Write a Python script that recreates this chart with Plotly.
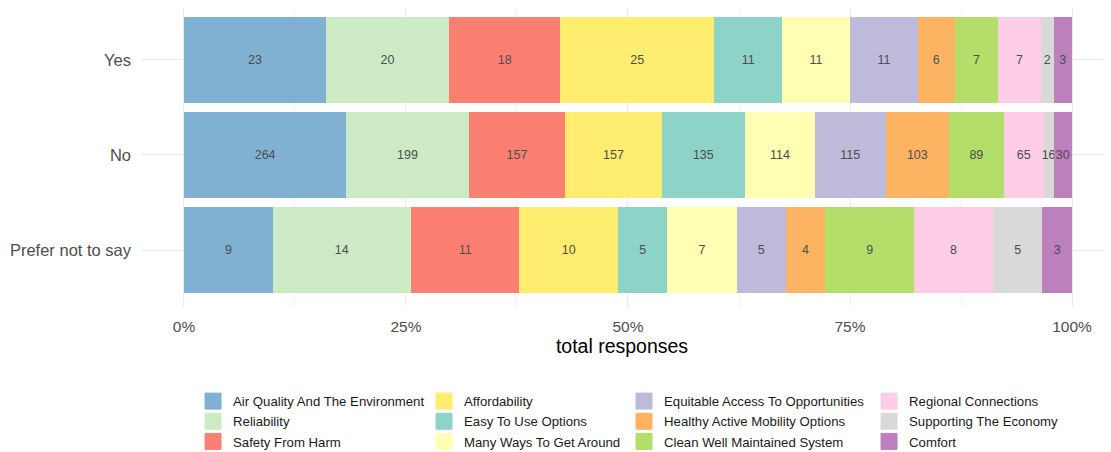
import plotly.graph_objects as go

groups = ["Yes", "No", "Prefer not to say"]
themes = [
    "Air Quality And The Environment", "Reliability", "Safety From Harm",
    "Affordability", "Easy To Use Options", "Many Ways To Get Around",
    "Equitable Access To Opportunities", "Healthy Active Mobility Options",
    "Clean Well Maintained System", "Regional Connections",
    "Supporting The Economy", "Comfort",
]
yes_counts = [23, 20, 18, 25, 11, 11, 11, 6, 7, 7, 2, 3]
no_counts = [264, 199, 157, 157, 135, 114, 115, 103, 89, 65, 16, 30]
pnts_counts = [9, 14, 11, 10, 5, 7, 5, 4, 9, 8, 5, 3]
colors = ["#80B1D3", "#CCEBC5", "#FB8072", "#FFED6F", "#8DD3C7", "#FFFFB3",
          "#BEBADA", "#FDB462", "#B3DE69", "#FCCDE5", "#D9D9D9", "#BC80BD"]

counts = [yes_counts, no_counts, pnts_counts]
totals = [sum(c) for c in counts]

legend_ids = ["legend", "legend2", "legend3", "legend4"]

fig = go.Figure()
for i, t in enumerate(themes):
    vals = [counts[g][i] for g in range(3)]
    fracs = [vals[g] / totals[g] for g in range(3)]
    fig.add_trace(go.Bar(
        y=groups, x=fracs, orientation="h", name=t,
        marker=dict(color=colors[i], line=dict(width=0)),
        text=[str(v) for v in vals], textposition="inside",
        insidetextanchor="middle",
        textfont=dict(color="#4d4d4d", size=12.5, family="Liberation Sans"),
        showlegend=False,
        hoverinfo="skip",
    ))
# square legend keys
for i, t in enumerate(themes):
    fig.add_trace(go.Scatter(
        x=[None], y=[None], mode="markers", name=t,
        marker=dict(symbol="square", size=16, color=colors[i],
                    line=dict(width=1, color=colors[i])),
        legend=legend_ids[i // 3], showlegend=True, hoverinfo="skip",
    ))

leg_x = [0.0541, 0.2942, 0.5021, 0.7568]
leg_common = dict(orientation="v", yanchor="top", y=-0.26, xanchor="left",
                  font=dict(size=13.2, color="#1a1a1a", family="Liberation Sans"),
                  bgcolor="rgba(0,0,0,0)", traceorder="normal", tracegroupgap=0)

fig.update_layout(
    barmode="stack", bargap=0.1,
    width=1095, height=444,
    margin=dict(l=133, r=0, t=0, b=144, autoexpand=False),
    plot_bgcolor="white", paper_bgcolor="white",
    font=dict(family="Liberation Sans"),
    uniformtext=dict(minsize=12.5, mode="show"),
    xaxis=dict(type="linear", range=[-0.0484, 1.0349], tickvals=[0, 0.25, 0.5, 0.75, 1.0],
               ticktext=["0%", "25%", "50%", "75%", "100%"],
               showgrid=True, gridcolor="#ebebeb", gridwidth=1.1,
               minor=dict(tickvals=[0.125, 0.375, 0.625, 0.875], showgrid=True,
                          gridcolor="#f4f4f4", gridwidth=0.6),
               zeroline=False, ticks="", automargin=False, ticklabelstandoff=7,
               tickfont=dict(size=15.5, color="#4d4d4d"),
               title=dict(text="total responses", font=dict(size=19.5, color="black"),
                          standoff=5)),
    yaxis=dict(type="category", categoryorder="array", categoryarray=groups,
               autorange=False, range=[2.6105, -0.547], showgrid=True,
               gridcolor="#ebebeb", gridwidth=1.1,
               zeroline=False, ticks="", ticklabelstandoff=9, automargin=False,
               tickfont=dict(size=16.5, color="#4d4d4d")),
    showlegend=True,
    legend=dict(x=leg_x[0], **leg_common),
    legend2=dict(x=leg_x[1], **leg_common),
    legend3=dict(x=leg_x[2], **leg_common),
    legend4=dict(x=leg_x[3], **leg_common),
)

fig.write_html("out.html")
